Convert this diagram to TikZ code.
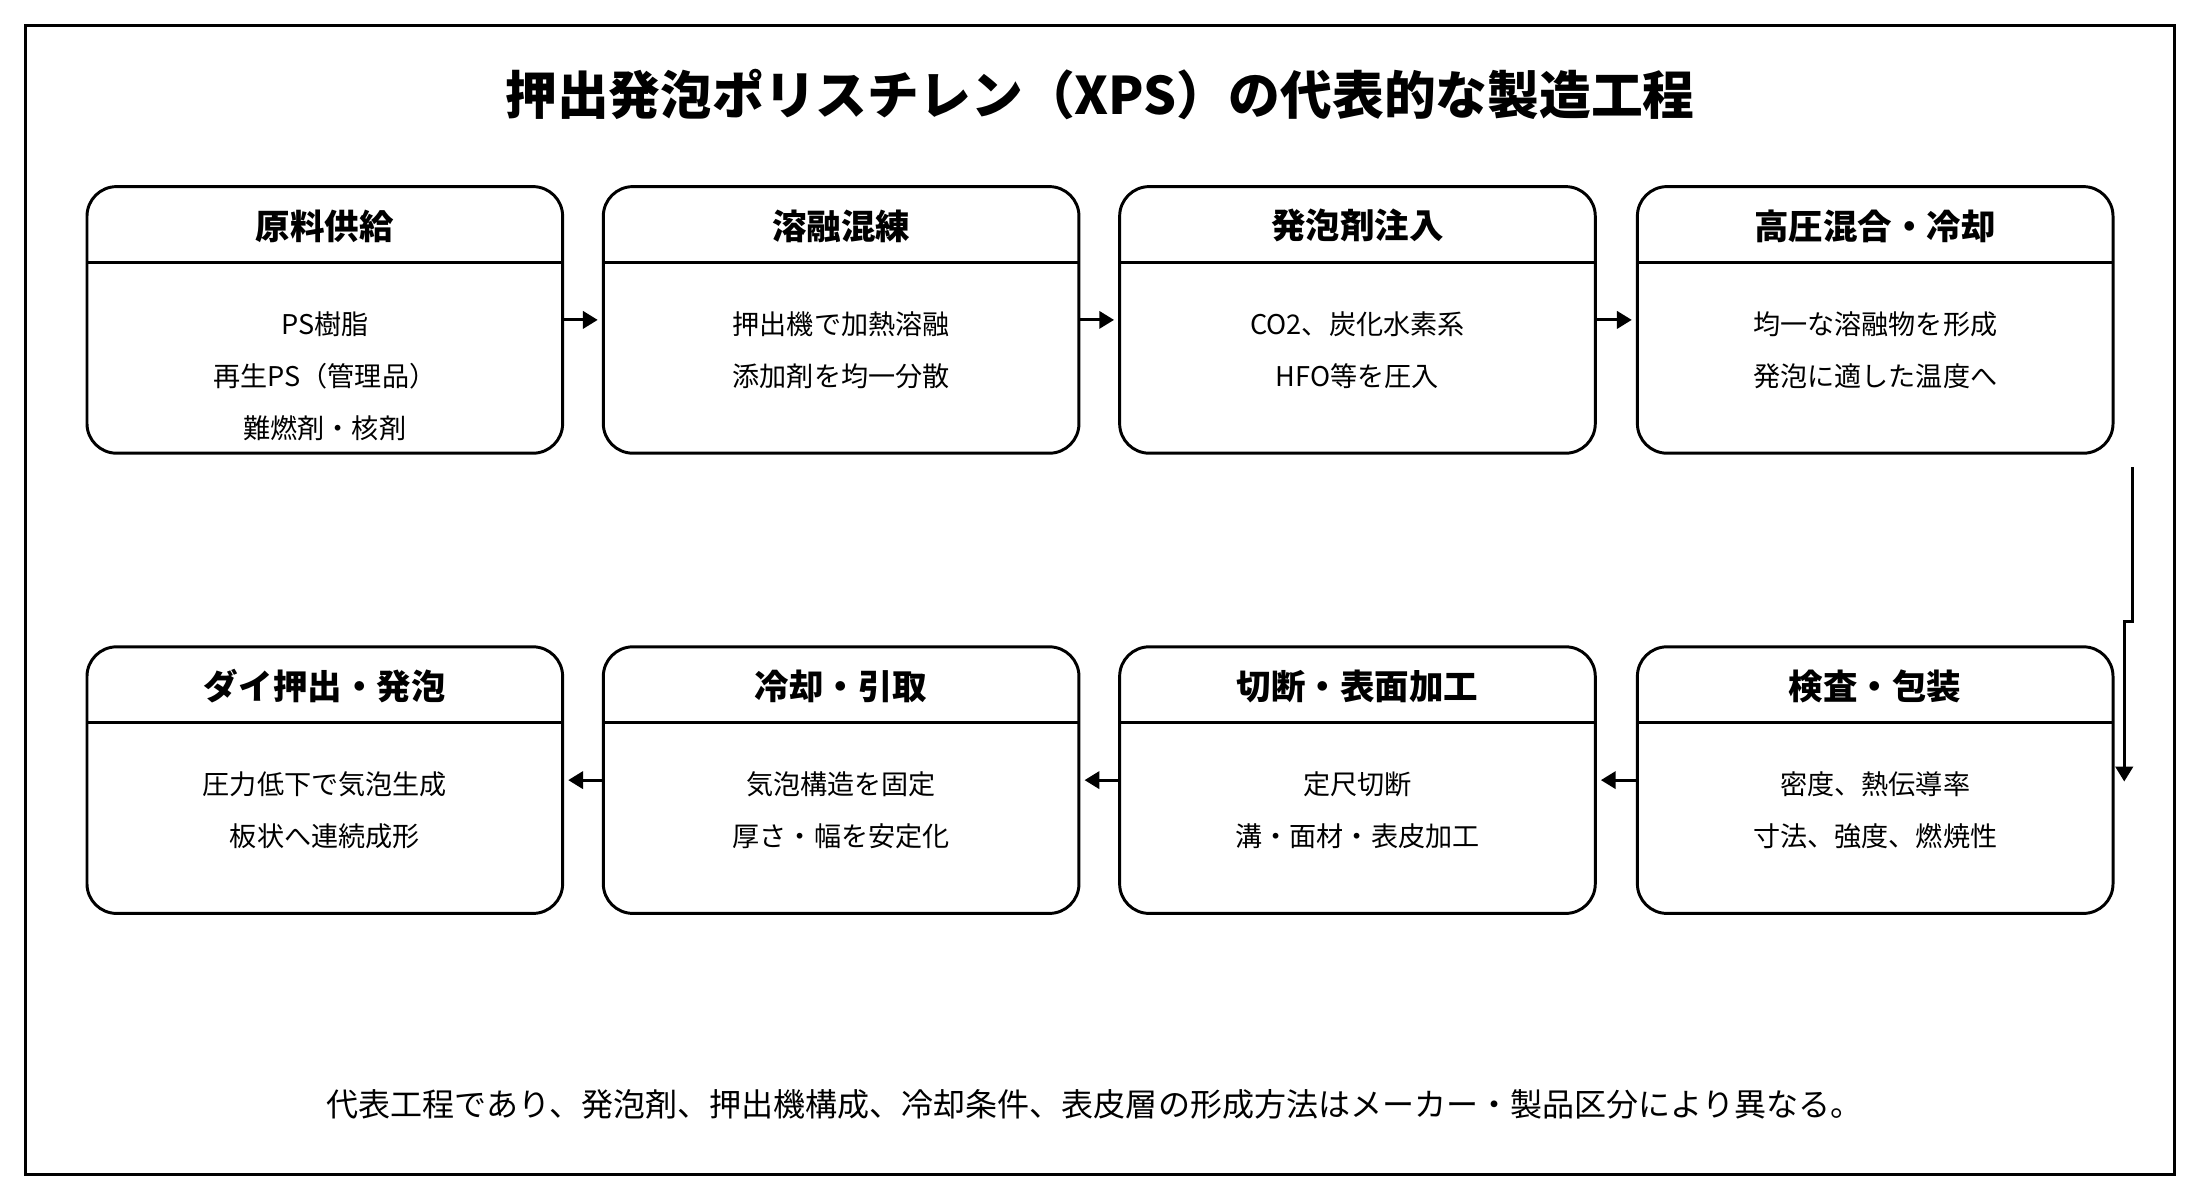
\documentclass[tikz,border=0pt]{standalone}
\usepackage{fontspec}
\setmainfont{Noto Sans CJK JP}
\usetikzlibrary{arrows.meta}
\begin{document}
\begin{tikzpicture}[x=0.2mm,y=-0.2mm,
  box/.style={draw,line width=1.2pt,rounded corners=12pt},
  hdr/.style={font=\bfseries\fontsize{14}{16}\selectfont},
  txt/.style={font=\fontsize{11}{13}\selectfont},
  arr/.style={line width=1.2pt,-{Triangle[length=6pt,width=7pt]}}]
\useasboundingbox (0,0) rectangle (1568,855);
\draw[line width=1.2pt] (18,18) rectangle (1550,837);
\node[font=\bfseries\fontsize{21}{24}\selectfont] (title) at (784,67) {押出発泡ポリスチレン（XPS）の代表的な製造工程};
\foreach \n/\x/\y/\h/\la/\lb/\lc in {
 a/62/133/原料供給/PS樹脂/再生PS（管理品）/難燃剤・核剤,
 b/430/133/溶融混練/押出機で加熱溶融/添加剤を均一分散/,
 c/798/133/発泡剤注入/CO2、炭化水素系/HFO等を圧入/,
 d/1167/133/高圧混合・冷却/均一な溶融物を形成/発泡に適した温度へ/,
 h/62/461/ダイ押出・発泡/圧力低下で気泡生成/板状へ連続成形/,
 g/430/461/冷却・引取/気泡構造を固定/厚さ・幅を安定化/,
 f/798/461/切断・表面加工/定尺切断/溝・面材・表皮加工/,
 e/1167/461/検査・包装/密度、熱伝導率/寸法、強度、燃焼性/}{
 \draw[box] (\x,\y) rectangle ++(339,190);
 \coordinate (\n W) at (\x,\y+95);
 \coordinate (\n E) at (\x+339,\y+95);
 \draw[line width=1.2pt] (\x,\y+54) -- ++(339,0);
 \node[hdr] (\n h) at (\x+169.5,\y+28) {\h};
 \node[txt] (\n 1) at (\x+169.5,\y+98) {\la};
 \node[txt] (\n 2) at (\x+169.5,\y+135) {\lb};
 \node[txt] (\n 3) at (\x+169.5,\y+172) {\lc};
}
\draw[arr] (401,228) -- (426,228);
\draw[arr] (769,228) -- (794,228);
\draw[arr] (1137,228) -- (1163,228);
\draw[arr] (1167,556) -- (1141,556);
\draw[arr] (798,556) -- (773,556);
\draw[arr] (430,556) -- (405,556);
\coordinate (s) at (1520,333);
\coordinate (e) at (1514,557);
\draw[arr] (s) -- (1520,443) -- (1514,443) -- (e);
\node[txt,font=\fontsize{13}{15}\selectfont] (note) at (780,787) {代表工程であり、発泡剤、押出機構成、冷却条件、表皮層の形成方法はメーカー・製品区分により異なる。};
\end{tikzpicture}
\end{document}
